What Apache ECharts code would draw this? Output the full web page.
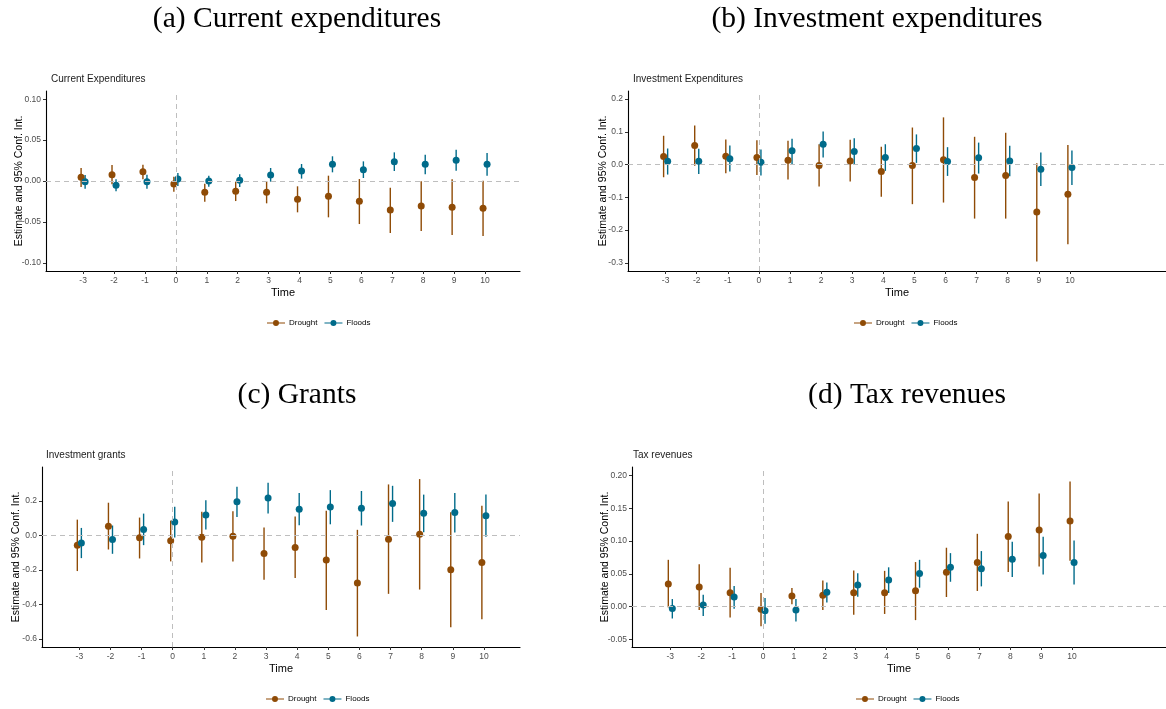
<!DOCTYPE html>
<html>
<head>
<meta charset="utf-8">
<script src="https://cdn.jsdelivr.net/npm/echarts@6/dist/echarts.min.js"></script>
<style>
  html, body { margin: 0; padding: 0; background: #fff; }
  #chart { width: 1166px; height: 709px; }
</style>
</head>
<body>
<div id="chart"></div>
<script>
// time periods relative to the event
const times = [-3, -2, -1, 0, 1, 2, 3, 4, 5, 6, 7, 8, 9, 10];

// (a) current expenditures: estimate, lower, upper
const curDroughtEst = [0.0045, 0.0077, 0.0114, -0.0037, -0.0139, -0.0126, -0.0139, -0.0224, -0.0187, -0.0249, -0.0355, -0.0306, -0.0322, -0.0334];
const curDroughtLo = [-0.0073, -0.004, 0.002, -0.013, -0.0253, -0.0245, -0.0273, -0.0383, -0.0444, -0.0526, -0.0636, -0.0611, -0.066, -0.0672];
const curDroughtHi = [0.016, 0.0196, 0.020, 0.0053, -0.0033, -0.0008, -0.0004, -0.0065, 0.0065, 0.0024, -0.0081, -0.0004, 0.002, 0.0004];
const curFloodsEst = [-0.0008, -0.0053, -0.0008, 0.0024, 0.0, 0.0008, 0.0073, 0.0122, 0.0204, 0.0139, 0.0236, 0.0204, 0.0253, 0.0204];
const curFloodsLo = [-0.0094, -0.0126, -0.0094, -0.006, -0.007, -0.0073, -0.0008, 0.0029, 0.0106, 0.0037, 0.0122, 0.0081, 0.0126, 0.0065];
const curFloodsHi = [0.0073, 0.002, 0.0077, 0.0098, 0.0065, 0.0081, 0.0159, 0.0208, 0.0302, 0.024, 0.035, 0.0322, 0.0383, 0.0342];

// (b) investment expenditures
const invDroughtEst = [0.0245, 0.058, 0.0255, 0.0214, 0.0133, -0.003, 0.011, -0.0214, -0.003, 0.0143, -0.0398, -0.0337, -0.145, -0.0908];
const invDroughtLo = [-0.0388, -0.004, -0.0265, -0.0316, -0.046, -0.067, -0.052, -0.098, -0.121, -0.116, -0.165, -0.165, -0.296, -0.243];
const invDroughtHi = [0.0878, 0.119, 0.0765, 0.0745, 0.0724, 0.062, 0.0755, 0.054, 0.113, 0.144, 0.0847, 0.097, 0.004, 0.060];
const invFloodsEst = [0.0102, 0.0102, 0.018, 0.007, 0.042, 0.062, 0.040, 0.0214, 0.049, 0.0092, 0.0204, 0.011, -0.0143, -0.0092];
const invFloodsLo = [-0.0306, -0.0286, -0.0214, -0.0337, 0.001, 0.0214, 0.0, -0.0194, 0.005, -0.0347, -0.0276, -0.0357, -0.0653, -0.0622];
const invFloodsHi = [0.049, 0.048, 0.058, 0.046, 0.0786, 0.101, 0.080, 0.062, 0.092, 0.053, 0.067, 0.057, 0.0367, 0.0429];

// (c) investment grants
const grDroughtEst = [-0.0558, 0.054, -0.0135, -0.031, -0.0096, -0.004, -0.104, -0.069, -0.142, -0.275, -0.021, 0.0077, -0.198, -0.156];
const grDroughtLo = [-0.206, -0.081, -0.133, -0.15, -0.156, -0.15, -0.256, -0.246, -0.431, -0.585, -0.338, -0.313, -0.531, -0.485];
const grDroughtHi = [0.092, 0.19, 0.104, 0.0865, 0.138, 0.140, 0.046, 0.11, 0.144, 0.033, 0.296, 0.327, 0.135, 0.173];
const grFloodsEst = [-0.044, -0.023, 0.0346, 0.079, 0.119, 0.196, 0.217, 0.152, 0.165, 0.158, 0.185, 0.129, 0.133, 0.115];
const grFloodsLo = [-0.131, -0.106, -0.0558, -0.0115, 0.0346, 0.108, 0.127, 0.06, 0.065, 0.058, 0.079, 0.019, 0.017, -0.0077];
const grFloodsHi = [0.044, 0.058, 0.127, 0.167, 0.204, 0.283, 0.306, 0.246, 0.263, 0.258, 0.288, 0.237, 0.246, 0.237];

// (d) tax revenues
const taxDroughtEst = [0.0347, 0.030, 0.0214, -0.004, 0.0163, 0.0173, 0.0214, 0.0214, 0.0245, 0.0526, 0.0673, 0.107, 0.1168, 0.1306];
const taxDroughtLo = [-0.001, -0.005, -0.0163, -0.0296, 0.0036, -0.005, -0.0122, -0.011, -0.0204, 0.0148, 0.024, 0.053, 0.0612, 0.070];
const taxDroughtHi = [0.0714, 0.0648, 0.0592, 0.021, 0.0286, 0.0398, 0.0551, 0.0546, 0.068, 0.0898, 0.111, 0.160, 0.1724, 0.1908];
const taxFloodsEst = [-0.0026, 0.0026, 0.0148, -0.006, -0.005, 0.022, 0.033, 0.0408, 0.0505, 0.060, 0.0577, 0.0724, 0.078, 0.0673];
const taxFloodsLo = [-0.0179, -0.0143, -0.003, -0.026, -0.0224, 0.0066, 0.0153, 0.0209, 0.029, 0.038, 0.031, 0.0454, 0.049, 0.0337];
const taxFloodsHi = [0.0117, 0.0184, 0.0316, 0.0133, 0.0117, 0.0367, 0.051, 0.060, 0.0714, 0.0816, 0.0847, 0.099, 0.1066, 0.101];

// y tick values per panel
const curTicks = [-0.10, -0.05, 0.00, 0.05, 0.10];
const invTicks = [-0.3, -0.2, -0.1, 0.0, 0.1, 0.2];
const grTicks = [-0.6, -0.4, -0.2, 0.0, 0.2];
const taxTicks = [-0.05, 0.00, 0.05, 0.10, 0.15, 0.20];

const DROUGHT = '#8F4B06';
const FLOODS = '#006B8A';
const DODGE = 0.065;
const SANS = 'Liberation Sans';
const SERIF = 'Liberation Serif';

const legendIcon = 'path://M0,2.5 L18,2.5 L18,3.5 L0,3.5 Z M9,0 A3,3 0 1 1 8.99,0 Z';

const panels = [
  { title: '(a) Current expenditures', tx: 297, ty: 19, sub: 'Current Expenditures', sx: 51, sy: 79,
    grid: { left: 46, top: 91, width: 474, height: 180 }, xmin: -4.2, xmax: 11.13,
    ymin: -0.11, ymax: 0.11, ticks: curTicks, dec: 2, nameGap: 21, legend: [262, 314],
    d: [curDroughtEst, curDroughtLo, curDroughtHi], f: [curFloodsEst, curFloodsLo, curFloodsHi] },
  { title: '(b) Investment expenditures', tx: 877, ty: 19, sub: 'Investment Expenditures', sx: 633, sy: 79,
    grid: { left: 628, top: 91, width: 538, height: 180 }, xmin: -4.21, xmax: 13.09,
    ymin: -0.325, ymax: 0.2245, ticks: invTicks, dec: 1, nameGap: 19.5, legend: [849, 314],
    d: [invDroughtEst, invDroughtLo, invDroughtHi], f: [invFloodsEst, invFloodsLo, invFloodsHi] },
  { title: '(c) Grants', tx: 297, ty: 395, sub: 'Investment grants', sx: 46, sy: 455,
    grid: { left: 42, top: 467, width: 478, height: 180 }, xmin: -4.2, xmax: 11.16,
    ymin: -0.646, ymax: 0.397, ticks: grTicks, dec: 1, nameGap: 20.5, legend: [261, 690],
    d: [grDroughtEst, grDroughtLo, grDroughtHi], f: [grFloodsEst, grFloodsLo, grFloodsHi] },
  { title: '(d) Tax revenues', tx: 907, ty: 395, sub: 'Tax revenues', sx: 633, sy: 455,
    grid: { left: 632, top: 467, width: 534, height: 180 }, xmin: -4.24, xmax: 13.04,
    ymin: -0.0613, ymax: 0.2127, ticks: taxTicks, dec: 2, nameGap: 21.5, legend: [851, 690],
    d: [taxDroughtEst, taxDroughtLo, taxDroughtHi], f: [taxFloodsEst, taxFloodsLo, taxFloodsHi] },
];

function rangeData(est, lo, hi, off) {
  return times.map((t, i) => [t + off, lo[i], hi[i]]);
}
function pointData(est, off) {
  return times.map((t, i) => [t + off, est[i]]);
}
function renderBar(params, api) {
  const x = api.value(0);
  const p1 = api.coord([x, api.value(1)]);
  const p2 = api.coord([x, api.value(2)]);
  return {
    type: 'line',
    shape: { x1: p1[0], y1: p1[1], x2: p2[0], y2: p2[1] },
    style: { stroke: api.visual('color'), lineWidth: 1.4 }
  };
}

const grids = [], xAxes = [], yAxes = [], series = [], legends = [], graphics = [];

panels.forEach((p, k) => {
  grids.push(Object.assign({ containLabel: false }, p.grid));
  xAxes.push({
    type: 'value', gridIndex: k, min: p.xmin, max: p.xmax,
    name: 'Time', nameLocation: 'middle', nameGap: 16,
    nameTextStyle: { fontFamily: SANS, fontSize: 11, color: '#000' },
    axisLine: { onZero: false, lineStyle: { color: '#000', width: 1.1 } },
    axisTick: { length: 3, lineStyle: { color: '#333' }, customValues: times },
    axisLabel: { customValues: times, fontFamily: SANS, fontSize: 8.5, color: '#4D4D4D', margin: 5 },
    splitLine: { show: false }
  });
  yAxes.push({
    type: 'value', gridIndex: k, min: p.ymin, max: p.ymax,
    name: 'Estimate and 95% Conf. Int.', nameLocation: 'middle', nameGap: p.nameGap,
    nameMoveOverlap: false,
    nameTextStyle: { fontFamily: SANS, fontSize: 10.5, color: '#000' },
    axisLine: { show: true, onZero: false, lineStyle: { color: '#000', width: 1.1 } },
    axisTick: { show: true, length: 3, lineStyle: { color: '#333' }, customValues: p.ticks },
    axisLabel: { customValues: p.ticks, fontFamily: SANS, fontSize: 8.5, color: '#4D4D4D', margin: 5,
      formatter: v => v.toFixed(p.dec) },
    splitLine: { show: false }
  });
  series.push({
    type: 'custom', name: 'Drought', xAxisIndex: k, yAxisIndex: k,
    renderItem: renderBar, itemStyle: { color: DROUGHT },
    data: rangeData(p.d[0], p.d[1], p.d[2], -DODGE), z: 3,
    markLine: {
      silent: true, symbol: 'none', label: { show: false },
      lineStyle: { color: '#BEBEBE', type: [5, 4], width: 1 },
      data: [{ yAxis: 0 }, { xAxis: 0 }]
    }
  });
  series.push({
    type: 'custom', name: 'Floods', xAxisIndex: k, yAxisIndex: k,
    renderItem: renderBar, itemStyle: { color: FLOODS },
    data: rangeData(p.f[0], p.f[1], p.f[2], DODGE), z: 3
  });
  series.push({
    type: 'scatter', name: 'Drought', xAxisIndex: k, yAxisIndex: k,
    symbolSize: 7, itemStyle: { color: DROUGHT, opacity: 1 },
    data: pointData(p.d[0], -DODGE), z: 4
  });
  series.push({
    type: 'scatter', name: 'Floods', xAxisIndex: k, yAxisIndex: k,
    symbolSize: 7, itemStyle: { color: FLOODS, opacity: 1 },
    data: pointData(p.f[0], DODGE), z: 4
  });
  legends.push({
    left: p.legend[0], top: p.legend[1], orient: 'horizontal',
    itemWidth: 18, itemHeight: 6, itemGap: 7, selectedMode: false,
    textStyle: { fontFamily: SANS, fontSize: 8, color: '#000', padding: [0, 0, 0, -1] },
    data: [{ name: 'Drought', icon: legendIcon }, { name: 'Floods', icon: legendIcon }]
  });
  graphics.push({
    type: 'text', x: p.tx, y: p.ty,
    style: { text: p.title, font: '29.5px "' + SERIF + '"', fill: '#000', align: 'center', verticalAlign: 'middle' }
  });
  graphics.push({
    type: 'text', x: p.sx, y: p.sy,
    style: { text: p.sub, font: '10px "' + SANS + '"', fill: '#1a1a1a', align: 'left', verticalAlign: 'middle' }
  });
});

const myChart = echarts.init(document.getElementById('chart'), null, { renderer: 'canvas' });
myChart.setOption({
  backgroundColor: '#fff',
  animation: false,
  grid: grids,
  xAxis: xAxes,
  yAxis: yAxes,
  legend: legends,
  graphic: graphics,
  series: series
});
</script>
</body>
</html>
